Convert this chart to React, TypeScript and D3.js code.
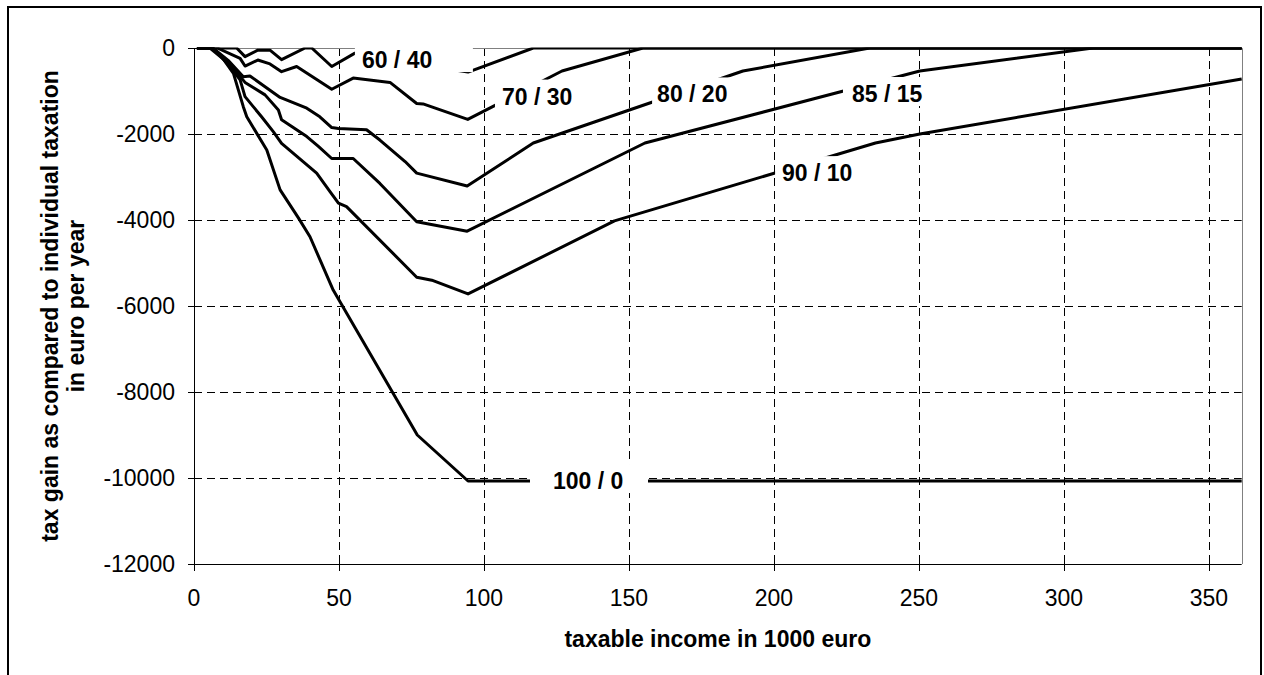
import { useEffect, useRef } from 'react';
import * as d3 from 'd3';

// taxable income (1000 euro) vs tax gain (euro per year), one array per income split
const split60_40: [number, number][] = [
  [1, 0], [14.7, 0], [17.6, -200], [22, -50], [26.2, -50], [30.2, -270], [38.3, 0], [40.6, 0],
  [47.5, -430], [55.5, -120], [65, -180], [77, -380], [94.5, -560], [117, 0], [361.3, 0],
];
const split70_30: [number, number][] = [
  [1, 0], [8, 0], [15.9, -240], [17.6, -420], [22, -280], [26.2, -370], [30.2, -550], [35.4, -430],
  [47.5, -960], [54.9, -700], [67.6, -800], [76.8, -1290], [79, -1300], [94.4, -1660], [126.9, -535],
  [154.8, 0], [361.3, 0],
];
const split80_20: [number, number][] = [
  [1, 0], [6.5, 0], [12, -300], [17, -670], [19.3, -650], [29.7, -1150], [38.9, -1400], [43.4, -1600],
  [47.5, -1850], [49.8, -1870], [59.5, -1900], [64.1, -2140], [72.8, -2640], [76.8, -2910], [94.2, -3210],
  [117, -2210], [189.3, -535], [233, 0], [361.3, 0],
];
const split85_15: [number, number][] = [
  [1, 0], [6.5, 0], [12, -350], [17.6, -800], [24.5, -1090], [29.1, -1440], [30.2, -1670], [38.9, -2060],
  [42.9, -2290], [47.5, -2570], [54.9, -2570], [64.1, -3150], [76.8, -4040], [94.2, -4260], [155.5, -2210],
  [250.3, -535], [310, 0], [361.3, 0],
];
const split90_10: [number, number][] = [
  [1, 0], [6.5, 0], [12, -400], [15.9, -740], [17.6, -1130], [23.3, -1600], [27.4, -1950], [30.2, -2220],
  [42.3, -2910], [46.9, -3340], [49.8, -3610], [52.6, -3690], [76.8, -5330], [82, -5400], [94.5, -5720],
  [145, -4020], [235, -2210], [250.3, -2000], [361.3, -720],
];
const split100_0: [number, number][] = [
  [1, 0], [5.5, 0], [10, -250], [13.6, -590], [17, -1365], [18.2, -1600], [25.1, -2370], [29.7, -3300],
  [36, -3950], [40, -4390], [48, -5630], [77, -9000], [94.5, -10070], [361.3, -10070],
];

const seriesNames = ['60 / 40', '70 / 30', '80 / 20', '85 / 15', '90 / 10', '100 / 0'];
const seriesPoints = [split60_40, split70_30, split80_20, split85_15, split90_10, split100_0];

// where each series name is written (left edge of text, vertical middle), in data units
const labelX = [57.9, 106.2, 159.7, 226.9, 202.8, 123.8];
const labelY = [-280, -1130, -1080, -1070, -2910, -10070];

const xTicks = [0, 50, 100, 150, 200, 250, 300, 350];
const yTicks = [0, -2000, -4000, -6000, -8000, -10000, -12000];
const xMax = 361.3;

const FONT = '"Liberation Sans", Arial, Helvetica, sans-serif';
// white label boxes: fixed width, left padding before the text
const BOX_W = 118;
const boxPad = [7, 7, 5, 9, 7, 23];

export default function App() {
  const svgRef = useRef<SVGSVGElement>(null);

  useEffect(() => {
    if (!svgRef.current) return;
    const svg = d3.select(svgRef.current);
    svg.selectAll('*').remove();

    const left = 194;
    const right = 1241.7;
    const top = 48;
    const bottom = 564;

    const x = d3.scaleLinear().domain([0, xMax]).range([left, right]);
    const y = d3.scaleLinear().domain([0, -12000]).range([top, bottom]);
    const crisp = (v: number) => Math.round(v) + 0.5;

    // chart frame
    svg
      .append('rect')
      .attr('x', 8)
      .attr('y', 7)
      .attr('width', 1253)
      .attr('height', 680)
      .attr('fill', 'white')
      .attr('stroke', '#000')
      .attr('stroke-width', 2);

    // dashed grid
    const grid = svg
      .append('g')
      .attr('stroke', '#000')
      .attr('stroke-width', 1)
      .attr('stroke-dasharray', '8,5');
    grid
      .selectAll('line.v')
      .data(xTicks.filter((d) => d > 0))
      .join('line')
      .attr('class', 'v')
      .attr('x1', (d) => crisp(x(d)))
      .attr('x2', (d) => crisp(x(d)))
      .attr('y1', top)
      .attr('y2', bottom);
    grid
      .selectAll('line.h')
      .data(yTicks.filter((d) => d < 0 && d > -12000))
      .join('line')
      .attr('class', 'h')
      .attr('x1', left)
      .attr('x2', right)
      .attr('y1', (d) => crisp(y(d)))
      .attr('y2', (d) => crisp(y(d)));

    // plot area border (top / right)
    svg
      .append('path')
      .attr('d', `M${left},${crisp(top)}H${crisp(right)}V${bottom}`)
      .attr('fill', 'none')
      .attr('stroke', '#808080')
      .attr('stroke-width', 1);

    // clip for the curves
    svg
      .append('clipPath')
      .attr('id', 'plotClip')
      .append('rect')
      .attr('x', left)
      .attr('y', top - 0.5)
      .attr('width', right - left + 1)
      .attr('height', bottom - top);

    const line = d3
      .line<[number, number]>()
      .x((d) => x(d[0]))
      .y((d) => y(d[1]));

    svg
      .append('g')
      .attr('clip-path', 'url(#plotClip)')
      .selectAll('path')
      .data(seriesPoints)
      .join('path')
      .attr('d', (d) => line(d))
      .attr('fill', 'none')
      .attr('stroke', '#000')
      .attr('stroke-width', 3)
      .attr('stroke-linejoin', 'round');

    // axes
    const axes = svg.append('g').attr('stroke', '#000').attr('stroke-width', 1);
    axes
      .append('line')
      .attr('x1', crisp(left))
      .attr('x2', crisp(left))
      .attr('y1', top)
      .attr('y2', bottom);
    axes
      .append('line')
      .attr('x1', left)
      .attr('x2', right)
      .attr('y1', crisp(bottom))
      .attr('y2', crisp(bottom));
    axes
      .selectAll('line.yt')
      .data(yTicks)
      .join('line')
      .attr('class', 'yt')
      .attr('x1', left - 6)
      .attr('x2', left + 6)
      .attr('y1', (d) => crisp(y(d)))
      .attr('y2', (d) => crisp(y(d)));
    axes
      .selectAll('line.xt')
      .data(xTicks)
      .join('line')
      .attr('class', 'xt')
      .attr('x1', (d) => crisp(x(d)))
      .attr('x2', (d) => crisp(x(d)))
      .attr('y1', bottom - 6)
      .attr('y2', bottom + 7);

    // tick labels
    svg
      .append('g')
      .selectAll('text')
      .data(yTicks)
      .join('text')
      .attr('x', 175)
      .attr('y', (d) => y(d) + 8)
      .attr('text-anchor', 'end')
      .attr('font-family', FONT)
      .attr('font-size', 23)
      .text((d) => String(d));
    svg
      .append('g')
      .selectAll('text')
      .data(xTicks)
      .join('text')
      .attr('x', (d) => x(d))
      .attr('y', 606)
      .attr('text-anchor', 'middle')
      .attr('font-family', FONT)
      .attr('font-size', 23)
      .text((d) => String(d));

    // series labels on white boxes
    const labels = svg.append('g');
    seriesNames.forEach((name, i) => {
      const lx = x(labelX[i]);
      const ly = y(labelY[i]);
      labels
        .append('rect')
        .attr('fill', 'white')
        .attr('x', lx - boxPad[i])
        .attr('y', ly - 17)
        .attr('width', BOX_W)
        .attr('height', 29);
      labels
        .append('text')
        .attr('x', lx)
        .attr('y', ly + 8)
        .attr('font-family', FONT)
        .attr('font-size', 23)
        .attr('font-weight', 'bold')
        .text(name);
    });

    // axis titles
    svg
      .append('text')
      .attr('x', (left + right) / 2)
      .attr('y', 647)
      .attr('text-anchor', 'middle')
      .attr('font-family', FONT)
      .attr('font-size', 23)
      .attr('font-weight', 'bold')
      .text('taxable income in 1000 euro');

    const yTitle = ['tax gain as compared to individual taxation', 'in euro per year'];
    svg
      .append('g')
      .selectAll('text')
      .data(yTitle)
      .join('text')
      .attr('transform', (_, i) => `translate(${58 + i * 26},${(top + bottom) / 2}) rotate(-90)`)
      .attr('text-anchor', 'middle')
      .attr('font-family', FONT)
      .attr('font-size', 23)
      .attr('font-weight', 'bold')
      .text((d) => d);
  }, []);

  return (
    <svg
      ref={svgRef}
      width={1264}
      height={675}
      style={{ position: 'absolute', left: 0, top: 0, background: 'white' }}
    />
  );
}
